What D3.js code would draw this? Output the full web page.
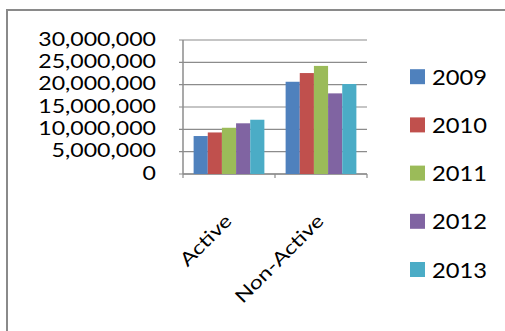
<!DOCTYPE html>
<html>
<head>
<meta charset="utf-8">
<script src="https://cdn.jsdelivr.net/npm/d3@7"></script>
<style>
  html, body { margin: 0; padding: 0; background: #fff; }
  svg { display: block; }
  text { font-family: Lato, "Open Sans", sans-serif; fill: #000; }
</style>
</head>
<body>
<svg id="chart" width="505" height="331"></svg>
<script>
// Membership counts by status, 2009–2013
const categories = ["Active", "Non-Active"];
const years = ["2009", "2010", "2011", "2012", "2013"];
const activeValues = [8500000, 9300000, 10350000, 11350000, 12150000];
const nonActiveValues = [20650000, 22600000, 24200000, 18050000, 20150000];
const yTicks = [0, 5000000, 10000000, 15000000, 20000000, 25000000, 30000000];
const colors = ["#4F81BD", "#C0504D", "#9BBB59", "#8064A2", "#4BACC6"];

const seriesByCategory = [activeValues, nonActiveValues];
const rows = categories.map((c, i) => ({
  category: c,
  values: years.map((y, j) => ({ year: y, value: seriesByCategory[i][j] }))
}));

const svg = d3.select("#chart");
const plot = { left: 183, right: 367, top: 40, bottom: 174 };

// chart frame
svg.append("rect")
  .attr("x", 7).attr("y", 10)
  .attr("width", 620).attr("height", 420)
  .attr("fill", "#fff")
  .attr("stroke", "#8a8a8a")
  .attr("stroke-width", 2);

const x0 = d3.scaleBand().domain(categories).range([plot.left, plot.right]).paddingInner(0).paddingOuter(0);
// gap between clusters is 150% of a bar width
const barW = x0.bandwidth() / (years.length + 1.5);
const x1 = d3.scaleBand().domain(years).range([0, barW * years.length]);
const y = d3.scaleLinear().domain([0, 30000000]).range([plot.bottom, plot.top]);

// gridlines
svg.append("g")
  .selectAll("line")
  .data(yTicks)
  .join("line")
  .attr("x1", plot.left - 4).attr("x2", plot.right)
  .attr("y1", d => y(d)).attr("y2", d => y(d))
  .attr("stroke", "#8c8c8c")
  .attr("stroke-width", 1.2);

// value axis line
svg.append("line")
  .attr("x1", plot.left).attr("x2", plot.left)
  .attr("y1", plot.top).attr("y2", plot.bottom)
  .attr("stroke", "#8c8c8c").attr("stroke-width", 1.5);

// category axis line and tick marks
svg.append("line")
  .attr("x1", plot.left).attr("x2", plot.right)
  .attr("y1", plot.bottom).attr("y2", plot.bottom)
  .attr("stroke", "#8c8c8c").attr("stroke-width", 1.5);
svg.append("g")
  .selectAll("line")
  .data([plot.left, plot.left + x0.bandwidth(), plot.right])
  .join("line")
  .attr("x1", d => d).attr("x2", d => d)
  .attr("y1", plot.bottom).attr("y2", plot.bottom + 4)
  .attr("stroke", "#8c8c8c").attr("stroke-width", 1.2);

// bars
const groups = svg.append("g")
  .selectAll("g")
  .data(rows)
  .join("g")
  .attr("transform", d => `translate(${x0(d.category) + (x0.bandwidth() - barW * years.length) / 2},0)`);

groups.selectAll("rect")
  .data(d => d.values)
  .join("rect")
  .attr("x", d => x1(d.year))
  .attr("width", x1.bandwidth())
  .attr("y", d => y(d.value))
  .attr("height", d => y(0) - y(d.value))
  .attr("fill", (d, i) => colors[i]);

// value axis labels
const fmt = d3.format(",");
const SX_AXIS = 1.25;
svg.append("g")
  .selectAll("text")
  .data(yTicks)
  .join("text")
  .attr("transform", d => `translate(156,${y(d) + 5.5}) scale(${SX_AXIS},1)`)
  .attr("text-anchor", "end")
  .style("font-size", "18.5px")
  .text(d => fmt(d));

// category labels, rotated
svg.append("g")
  .selectAll("text")
  .data(categories)
  .join("text")
  .attr("transform", d => `translate(${x0(d) + x0.bandwidth() / 2 + 4},${plot.bottom + 48}) rotate(-45) scale(${SX_AXIS},1)`)
  .attr("text-anchor", "end")
  .style("font-size", "18.5px")
  .text(d => d);

// legend
const legend = svg.append("g")
  .selectAll("g")
  .data(years)
  .join("g")
  .attr("transform", (d, i) => `translate(410,${76.7 + i * 48.2})`);
legend.append("rect")
  .attr("x", 0).attr("y", -7.5)
  .attr("width", 15).attr("height", 15)
  .attr("fill", (d, i) => colors[i]);
legend.append("text")
  .attr("transform", "translate(22,8) scale(1.13,1)")
  .style("font-size", "21px")
  .text(d => d);
</script>
</body>
</html>
